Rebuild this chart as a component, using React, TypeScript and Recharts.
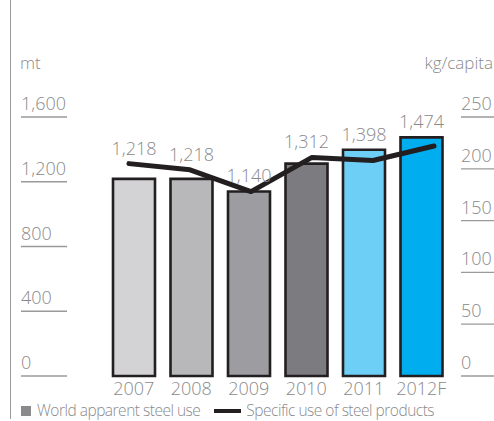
import React from "react";
import {
  ComposedChart,
  Bar,
  Line,
  XAxis,
  YAxis,
  Cell,
  LabelList,
} from "recharts";

const years = ["2007", "2008", "2009", "2010", "2011", "2012F"];
const steelUse = [1218, 1218, 1140, 1312, 1398, 1474];
const perCapita = [205, 199, 178, 211, 208, 222];
const barColors = ["#d3d3d5", "#b8b8bb", "#9d9ca0", "#7c7b80", "#6dcff6", "#00aeef"];
const leftTicks = [0, 400, 800, 1200, 1600];
const rightTicks = [0, 50, 100, 150, 200, 250];

const data = years.map((year, i) => ({
  year,
  steel: steelUse[i],
  capita: perCapita[i],
}));

const FONT = "'Open Sans', 'DejaVu Sans', sans-serif";
const GREY = "#8a8a8c";
const PLOT_TOP = 117;
const PLOT_H = 259;
const RIGHT_MAX = 250;
const fmt = (v: number) => v.toLocaleString("en-US");

// tick with a short underline, like the printed chart
function LeftTick(props: any) {
  const { y, payload } = props;
  return (
    <g>
      <text x={21} y={y - 7} fill={GREY} fontSize={18} fontWeight={300} fontFamily={FONT}>
        {fmt(payload.value)}
      </text>
      <line x1={21} x2={67} y1={y} y2={y} stroke="#9a9a9c" strokeWidth={1.3} />
    </g>
  );
}

function RightTick(props: any) {
  const { y, payload } = props;
  return (
    <g>
      <text x={461} y={y - 7} fill={GREY} fontSize={18} fontWeight={300} fontFamily={FONT}>
        {payload.value}
      </text>
      <line x1={461} x2={494} y1={y} y2={y} stroke="#9a9a9c" strokeWidth={1.3} />
    </g>
  );
}

function YearTick(props: any) {
  const { x, y, payload } = props;
  return (
    <text x={x} y={y + 11} textAnchor="middle" fill={GREY} fontSize={18} fontWeight={300} fontFamily={FONT}>
      {payload.value}
    </text>
  );
}

// value label sits above whichever is higher: the bar top or the line
function BarValue(props: any) {
  const { x, y, width, value, index } = props;
  const lineY = PLOT_TOP + PLOT_H * (1 - perCapita[index] / RIGHT_MAX);
  const top = Math.min(y, lineY);
  return (
    <text
      x={x + width / 2}
      y={top - 9}
      textAnchor="middle"
      fill={GREY}
      fontSize={18}
      fontWeight={300}
      fontFamily={FONT}
    >
      {fmt(Number(value))}
    </text>
  );
}

export default function App() {
  return (
    <div style={{ position: "absolute", left: 0, top: 0, width: 494, height: 421, background: "#fff", fontFamily: FONT }}>
      <div style={{ position: "absolute", left: 10, top: 0, width: 1, height: 419, background: "#9a9a9c" }} />
      <ComposedChart
        width={494}
        height={421}
        data={data}
        margin={{ top: PLOT_TOP, right: 0, bottom: 0, left: 0 }}
        barSize={42}
      >
        <XAxis
          dataKey="year"
          axisLine={false}
          tickLine={false}
          height={45}
          tick={<YearTick />}
          interval={0}
        />
        <XAxis xAxisId="line" dataKey="year" hide scale="point" padding={{ left: 24, right: 16 }} />
        <YAxis
          yAxisId="left"
          orientation="left"
          width={105}
          domain={[0, 1600]}
          ticks={leftTicks}
          axisLine={false}
          tickLine={false}
          tick={<LeftTick />}
          label={{
            content: () => (
              <text x={20} y={69} fill={GREY} fontSize={17} fontWeight={300} fontFamily={FONT}>
                mt
              </text>
            ),
          }}
        />
        <YAxis
          yAxisId="right"
          orientation="right"
          width={44}
          domain={[0, RIGHT_MAX]}
          ticks={rightTicks}
          axisLine={false}
          tickLine={false}
          tick={<RightTick />}
          label={{
            content: () => (
              <text x={493} y={69} textAnchor="end" fill={GREY} fontSize={17} fontWeight={300} fontFamily={FONT}>
                kg/capita
              </text>
            ),
          }}
        />
        <Bar yAxisId="left" dataKey="steel" stroke="#231f20" strokeWidth={2.6} isAnimationActive={false}>
          {data.map((d, i) => (
            <Cell key={d.year} fill={barColors[i]} />
          ))}
          <LabelList dataKey="steel" content={<BarValue />} />
        </Bar>
        <Line
          yAxisId="right"
          xAxisId="line"
          dataKey="capita"
          type="linear"
          stroke="#231f20"
          strokeWidth={5}
          strokeLinecap="round"
          strokeLinejoin="round"
          dot={false}
          activeDot={false}
          isAnimationActive={false}
        />
      </ComposedChart>
      <div
        style={{
          position: "absolute",
          left: 21,
          top: 402,
          display: "flex",
          alignItems: "center",
          fontSize: 15.5,
          fontWeight: 300,
          letterSpacing: -0.5,
          color: GREY,
          whiteSpace: "nowrap",
          lineHeight: "17px",
        }}
      >
        <span style={{ display: "inline-block", width: 10, height: 10, background: "#8a8a8c", marginRight: 6 }} />
        <span>World apparent steel use</span>
        <span style={{ display: "inline-block", width: 27, height: 4, background: "#231f20", marginLeft: 14, marginRight: 5 }} />
        <span>Specific use of steel products</span>
      </div>
    </div>
  );
}
